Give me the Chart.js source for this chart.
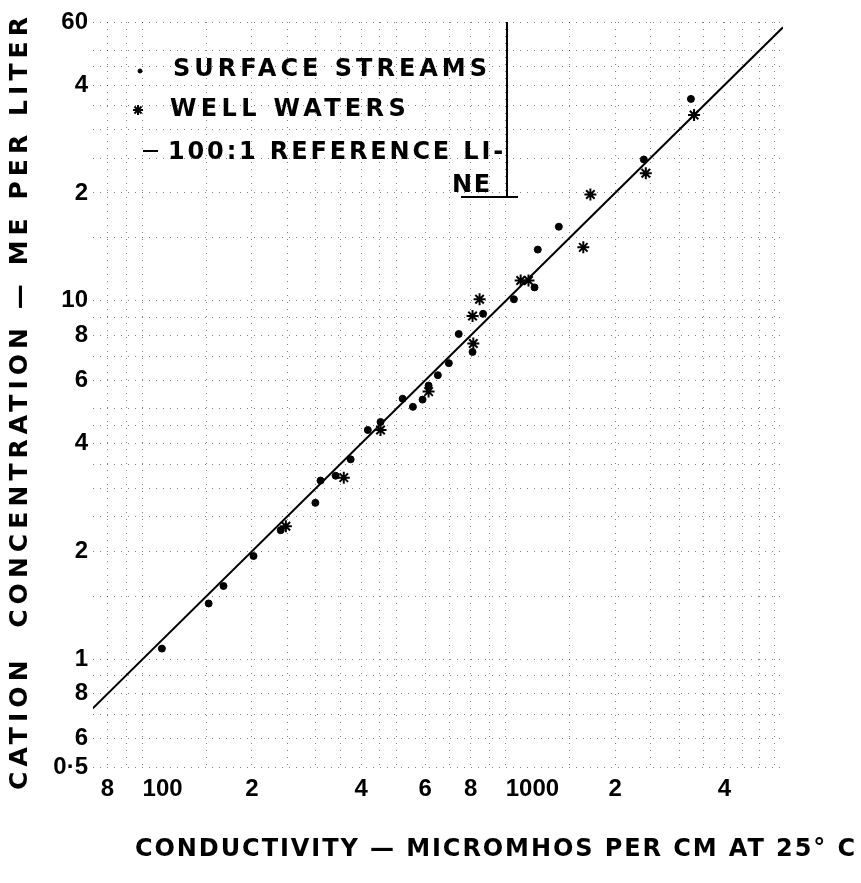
<!DOCTYPE html>
<html>
<head>
<meta charset="utf-8">
<script src="https://cdn.jsdelivr.net/npm/chart.js@4.4.1/dist/chart.umd.min.js"></script>
<style>
  html, body { margin: 0; background: #fff; }
  canvas { display: block; }
</style>
</head>
<body>
<canvas id="chart" width="861" height="883"></canvas>
<script>
// surface streams (dots)
const surfaceX = [113, 152, 167, 202, 240, 299, 309, 340, 374, 417, 452, 520, 555, 590, 613, 650, 697, 742, 810, 866, 1053, 1200, 1225, 1400, 2400, 3235];
const surfaceY = [1.07, 1.43, 1.60, 1.94, 2.29, 2.73, 3.15, 3.25, 3.61, 4.36, 4.59, 5.33, 5.06, 5.30, 5.80, 6.2, 6.7, 8.08, 7.2, 9.2, 10.1, 10.9, 13.9, 16.1, 24.8, 36.6];

// well waters
const wellX = [248, 358, 452, 613, 810, 814, 847, 1099, 1155, 1635, 1710, 2430, 3300];
const wellY = [2.35, 3.21, 4.36, 5.58, 9.07, 7.6, 10.1, 11.4, 11.4, 14.1, 19.8, 22.7, 33.0];

// 100:1 reference line end points
const refX = [72, 5800];
const refY = [0.72, 58];

// axis ticks (multi-digit x labels sit to the right of their line, as on the sheet)
const xTickValues = [80, 100, 200, 400, 600, 800, 1000, 2000, 4000];
const xTickLabels = ['8', '      100', '2', '4', '6', '8', '        1000', '2', '4'];
const xGridValues = [80, 90, 100, 150, 200, 250, 300, 350, 400, 450, 500, 600, 700, 800, 900, 1000, 1500, 2000, 2500, 3000, 3500, 4000, 4500, 5000, 5500];

const yTickValues = [0.5, 0.6, 0.8, 1, 2, 4, 6, 8, 10, 20, 40, 60];
const yTickLabels = ['0·5', '6', '8', '1', '2', '4', '6', '8', '10', '2', '4', '60'];
const yGridValues = [0.5, 0.6, 0.7, 0.8, 0.9, 1, 1.5, 2, 2.5, 3, 3.5, 4, 4.5, 5, 6, 7, 8, 9, 10, 15, 20, 25, 30, 35, 40, 45, 50, 60];

const pts = (xs, ys) => xs.map((x, i) => ({ x: x, y: ys[i] }));
const labelFor = (values, labels) => (v) => {
  const i = values.findIndex(t => Math.abs(t - v) / t < 1e-6);
  return i >= 0 ? labels[i] : '';
};

const FONT = '"DejaVu Sans", sans-serif';
const TICKFONT = '"Liberation Sans", Arial, sans-serif';

// draw text stretched with letter spacing to a given width, starting at x
function spread(ctx, text, x, y, width) {
  ctx.letterSpacing = '0px';
  const w = ctx.measureText(text).width;
  ctx.letterSpacing = ((width - w) / text.length) + 'px';
  ctx.fillText(text, x, y);
  ctx.letterSpacing = '0px';
}

const textPlugin = {
  id: 'scanText',
  afterDraw(chart) {
    const ctx = chart.ctx;
    const a = chart.chartArea;
    ctx.save();
    ctx.fillStyle = '#000';
    ctx.strokeStyle = '#000';
    ctx.textBaseline = 'middle';
    ctx.textAlign = 'left';

    // legend
    ctx.font = 'bold 24px ' + FONT;
    Chart.helpers.drawPoint(ctx, { pointStyle: 'circle', radius: 2, borderWidth: 1 }, a.left + 47, a.top + 49);
    spread(ctx, 'SURFACE STREAMS', a.left + 80, a.top + 48, 318);
    ctx.lineWidth = 2;
    Chart.helpers.drawPoint(ctx, { pointStyle: 'star', radius: 5, borderWidth: 2 }, a.left + 45, a.top + 88);
    spread(ctx, 'WELL WATERS', a.left + 77, a.top + 88, 240);
    ctx.beginPath();
    ctx.moveTo(a.left + 50, a.top + 129);
    ctx.lineTo(a.left + 65, a.top + 129);
    ctx.stroke();
    spread(ctx, '100:1 REFERENCE LI-', a.left + 75, a.top + 131, 338);
    spread(ctx, 'NE', a.left + 359, a.top + 164, 40);

    // legend frame
    ctx.lineWidth = 2;
    ctx.beginPath();
    ctx.moveTo(a.left + 414, a.top);
    ctx.lineTo(a.left + 414, a.top + 176);
    ctx.moveTo(a.left + 368, a.top + 175);
    ctx.lineTo(a.left + 425, a.top + 175);
    ctx.stroke();

    // axis titles
    ctx.font = 'bold 24px ' + FONT;
    spread(ctx, 'CONDUCTIVITY — MICROMHOS PER CM AT 25° C', 135, 850, 722);
    ctx.translate(20, 790);
    ctx.rotate(-Math.PI / 2);
    ctx.font = 'bold 25px ' + FONT;
    spread(ctx, 'CATION  CONCENTRATION — ME PER LITER', 0, 0, 778);
    ctx.restore();
  }
};

new Chart(document.getElementById('chart'), {
  type: 'scatter',
  data: {
    datasets: [
      {
        label: 'SURFACE STREAMS',
        data: pts(surfaceX, surfaceY),
        pointStyle: 'circle',
        pointRadius: 3.5,
        backgroundColor: '#000',
        borderColor: '#000',
        borderWidth: 1
      },
      {
        label: 'WELL WATERS',
        data: pts(wellX, wellY),
        pointStyle: 'star',
        pointRadius: 6,
        backgroundColor: '#000',
        borderColor: '#000',
        borderWidth: 2
      },
      {
        label: '100:1 REFERENCE LINE',
        data: pts(refX, refY),
        showLine: true,
        pointRadius: 0,
        borderColor: '#000',
        borderWidth: 2
      }
    ]
  },
  options: {
    responsive: false,
    animation: false,
    layout: { padding: { left: 5, right: 78, top: 22, bottom: 0 } },
    plugins: {
      legend: { display: false },
      tooltip: { enabled: false }
    },
    scales: {
      x: {
        type: 'logarithmic',
        min: 73,
        max: 5800,
        afterBuildTicks: (s) => { s.ticks = xGridValues.map(v => ({ value: v })); },
        afterFit: (s) => { s.height = 116; },
        ticks: {
          autoSkip: false,
          maxRotation: 0,
          padding: 8,
          color: '#000',
          font: { family: TICKFONT, size: 24, weight: 'bold' },
          callback: labelFor(xTickValues, xTickLabels)
        },
        grid: { color: 'rgba(0,0,0,0.5)', lineWidth: 1, drawTicks: false },
        border: { display: false, dash: [1, 6] }
      },
      y: {
        type: 'logarithmic',
        min: 0.5,
        max: 60,
        afterBuildTicks: (s) => { s.ticks = yGridValues.map(v => ({ value: v })); },
        afterFit: (s) => { s.width = 88; },
        ticks: {
          autoSkip: false,
          padding: 5,
          color: '#000',
          font: { family: TICKFONT, size: 24, weight: 'bold' },
          callback: labelFor(yTickValues, yTickLabels)
        },
        grid: { color: 'rgba(0,0,0,0.5)', lineWidth: 1, drawTicks: false },
        border: { display: false, dash: [1, 6] }
      }
    }
  },
  plugins: [textPlugin]
});
</script>
</body>
</html>
